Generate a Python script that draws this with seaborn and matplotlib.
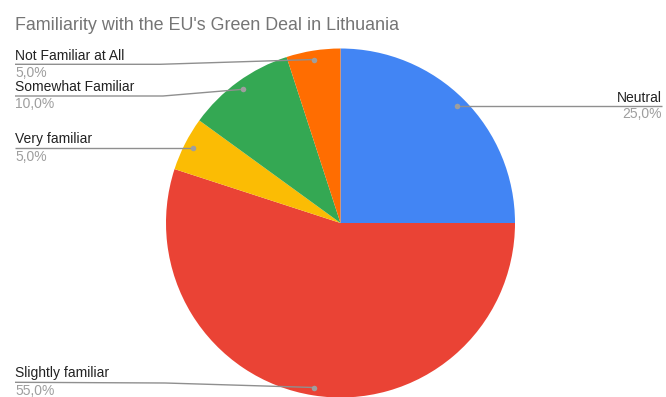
import matplotlib
matplotlib.use("Agg")
import matplotlib.pyplot as plt
import seaborn as sns

sns.set_style("white")
plt.rcParams["font.family"] = ["Liberation Sans", "DejaVu Sans"]

title = "Familiarity with the EU's Green Deal in Lithuania"
categories = ["Neutral", "Slightly familiar", "Very familiar", "Somewhat Familiar", "Not Familiar at All"]
shares = [25.0, 55.0, 5.0, 10.0, 5.0]
colors = ["#4285F4", "#EA4335", "#FBBC04", "#34A853", "#FF6D01"]

W, H = 666, 397
fig = plt.figure(figsize=(W / 100, H / 100), dpi=100)
ax = fig.add_axes([0, 0, 1, 1])


def Y(py):
    return H - py


cx, cy, R = 340.5, 223.0, 174.5
ax.pie(shares, colors=colors, startangle=90, counterclock=False,
       radius=R, center=(cx, Y(cy)), frame=True,
       wedgeprops=dict(linewidth=0))
ax.set_xlim(0, W)
ax.set_ylim(0, H)
ax.set_aspect("equal")
ax.axis("off")

line_c = "#8f8f8f"
lab_c = "#222222"
pct_c = "#9e9e9e"
fs = 10.0

# label layout: (text x, label baseline, percent baseline, align, leader polyline)
layout = {
    "Neutral": (662, 101.5, 118.5, "right", [(662, 106), (457, 106)]),
    "Slightly familiar": (15, 377.5, 395, "left", [(15, 382.3), (165, 383), (314, 387.5)]),
    "Very familiar": (15, 143.5, 161, "left", [(15, 148), (193, 148)]),
    "Somewhat Familiar": (15, 91, 108.5, "left", [(15, 96), (163, 96), (243, 89.3)]),
    "Not Familiar at All": (15, 60, 77, "left", [(15, 64.3), (160, 64.3), (314, 59.5)]),
}

for cat, val in zip(categories, shares):
    tx, lb, pb, ha, pts = layout[cat]
    xs = [p[0] for p in pts]
    ys = [Y(p[1]) for p in pts]
    ax.plot(xs, ys, color=line_c, lw=1.0, solid_capstyle="butt", zorder=3)
    ax.plot([xs[-1]], [ys[-1]], "o", color="#9e9e9e", ms=4, mec="none", zorder=4)
    ax.text(tx, Y(lb), cat, ha=ha, va="baseline", fontsize=fs, color=lab_c)
    ax.text(tx, Y(pb), f"{val:.1f}%".replace(".", ","), ha=ha, va="baseline",
            fontsize=fs, color=pct_c)

ax.text(15, Y(29.5), title, ha="left", va="baseline", fontsize=12.9, color="#757575")

fig.savefig("out.png", dpi=100)
